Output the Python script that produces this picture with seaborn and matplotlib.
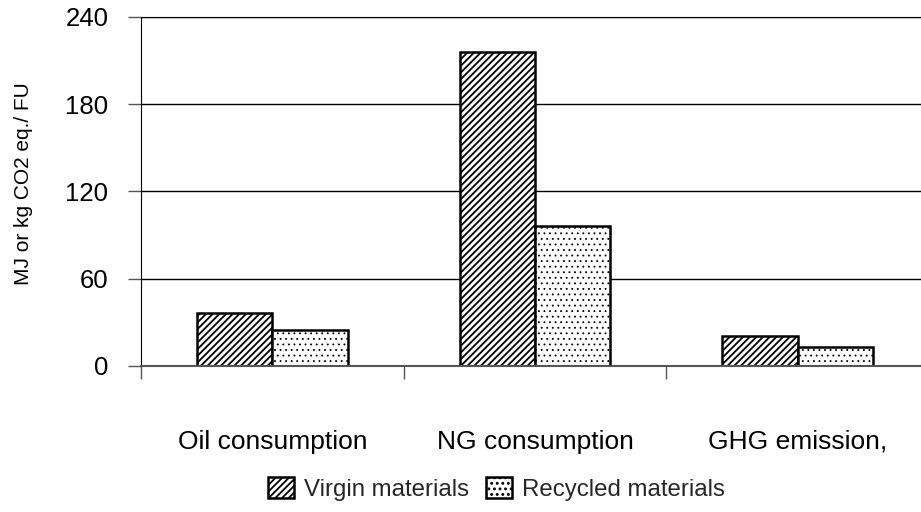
import matplotlib.pyplot as plt
import pandas as pd
import seaborn as sns

# values
categories = ['Oil consumption', 'NG consumption', 'GHG emission,']
virgin = [36.4, 215.7, 20.6]
recycled = [24.5, 96.5, 13.1]
series = ['Virgin materials', 'Recycled materials']
yticks = [0, 60, 120, 180, 240]

df = pd.DataFrame({
    'category': categories * 2,
    'value': virgin + recycled,
    'material': [series[0]] * 3 + [series[1]] * 3,
})

sns.set_style('white')
plt.rcParams['font.family'] = ['Liberation Sans', 'DejaVu Sans']
plt.rcParams['hatch.linewidth'] = 1.3

fig = plt.figure(figsize=(9.21, 5.12), dpi=100)
ax = fig.add_axes([0.1531, 0.2852, 0.8556, 0.6822])

sns.barplot(data=df, x='category', y='value', hue='material', order=categories,
            hue_order=series, palette=['white', 'white'], edgecolor='black',
            linewidth=1.8, width=0.573, saturation=1, legend=False, ax=ax)

# hatch patterns: dense stripes for virgin, sparse dots for recycled
hatches = ['/////', '...']
hatch_lw = [1.3, 0.6]
for cont, h, lw in zip(ax.containers, hatches, hatch_lw):
    for bar in cont:
        bar.set_hatch(h)
        bar.set_edgecolor('black')
        if hasattr(bar, 'set_hatch_linewidth'):
            bar.set_hatch_linewidth(lw)

ax.set_xlim(-0.5, 2.5)
ax.set_ylim(0, 240)
ax.set_yticks(yticks)
ax.set_yticklabels([str(t) for t in yticks])
ax.set_xticks([-0.5, 0.5, 1.5, 2.5], minor=False)
ax.set_xticklabels([])
ax.set_xticks([0, 1, 2], minor=True)
ax.set_xticklabels(categories, minor=True)
ax.tick_params(axis='x', which='major', direction='out', length=9.5, width=1, color='#555555', bottom=True)
ax.tick_params(axis='x', which='minor', length=0, pad=46, labelsize=19, colors='black')
ax.tick_params(axis='y', direction='out', length=9.5, width=1, color='#555555', left=True, pad=14,
               labelsize=18.5, labelcolor='black')

ax.grid(axis='y', color='black', linewidth=1)
ax.set_axisbelow(True)
ax.spines['right'].set_visible(False)
ax.spines['top'].set_color('black')
ax.spines['left'].set_color('black')
ax.spines['bottom'].set_color('#555555')
ax.spines['bottom'].set_linewidth(1.5)

ax.set_xlabel('')
ax.set_ylabel('MJ or kg CO2 eq./ FU', fontsize=15, color='black')
ax.yaxis.set_label_coords(-0.137, 0.521)

handles = [ax.containers[0][0], ax.containers[1][0]]
fig.legend(handles, series, loc='center', bbox_to_anchor=(496.5 / 921, 1 - 489 / 512),
           ncol=2, frameon=False, fontsize=17.3, handlelength=1.08, handleheight=0.96,
           handletextpad=0.45, columnspacing=0.68)

fig.savefig('out.png', dpi=100)
